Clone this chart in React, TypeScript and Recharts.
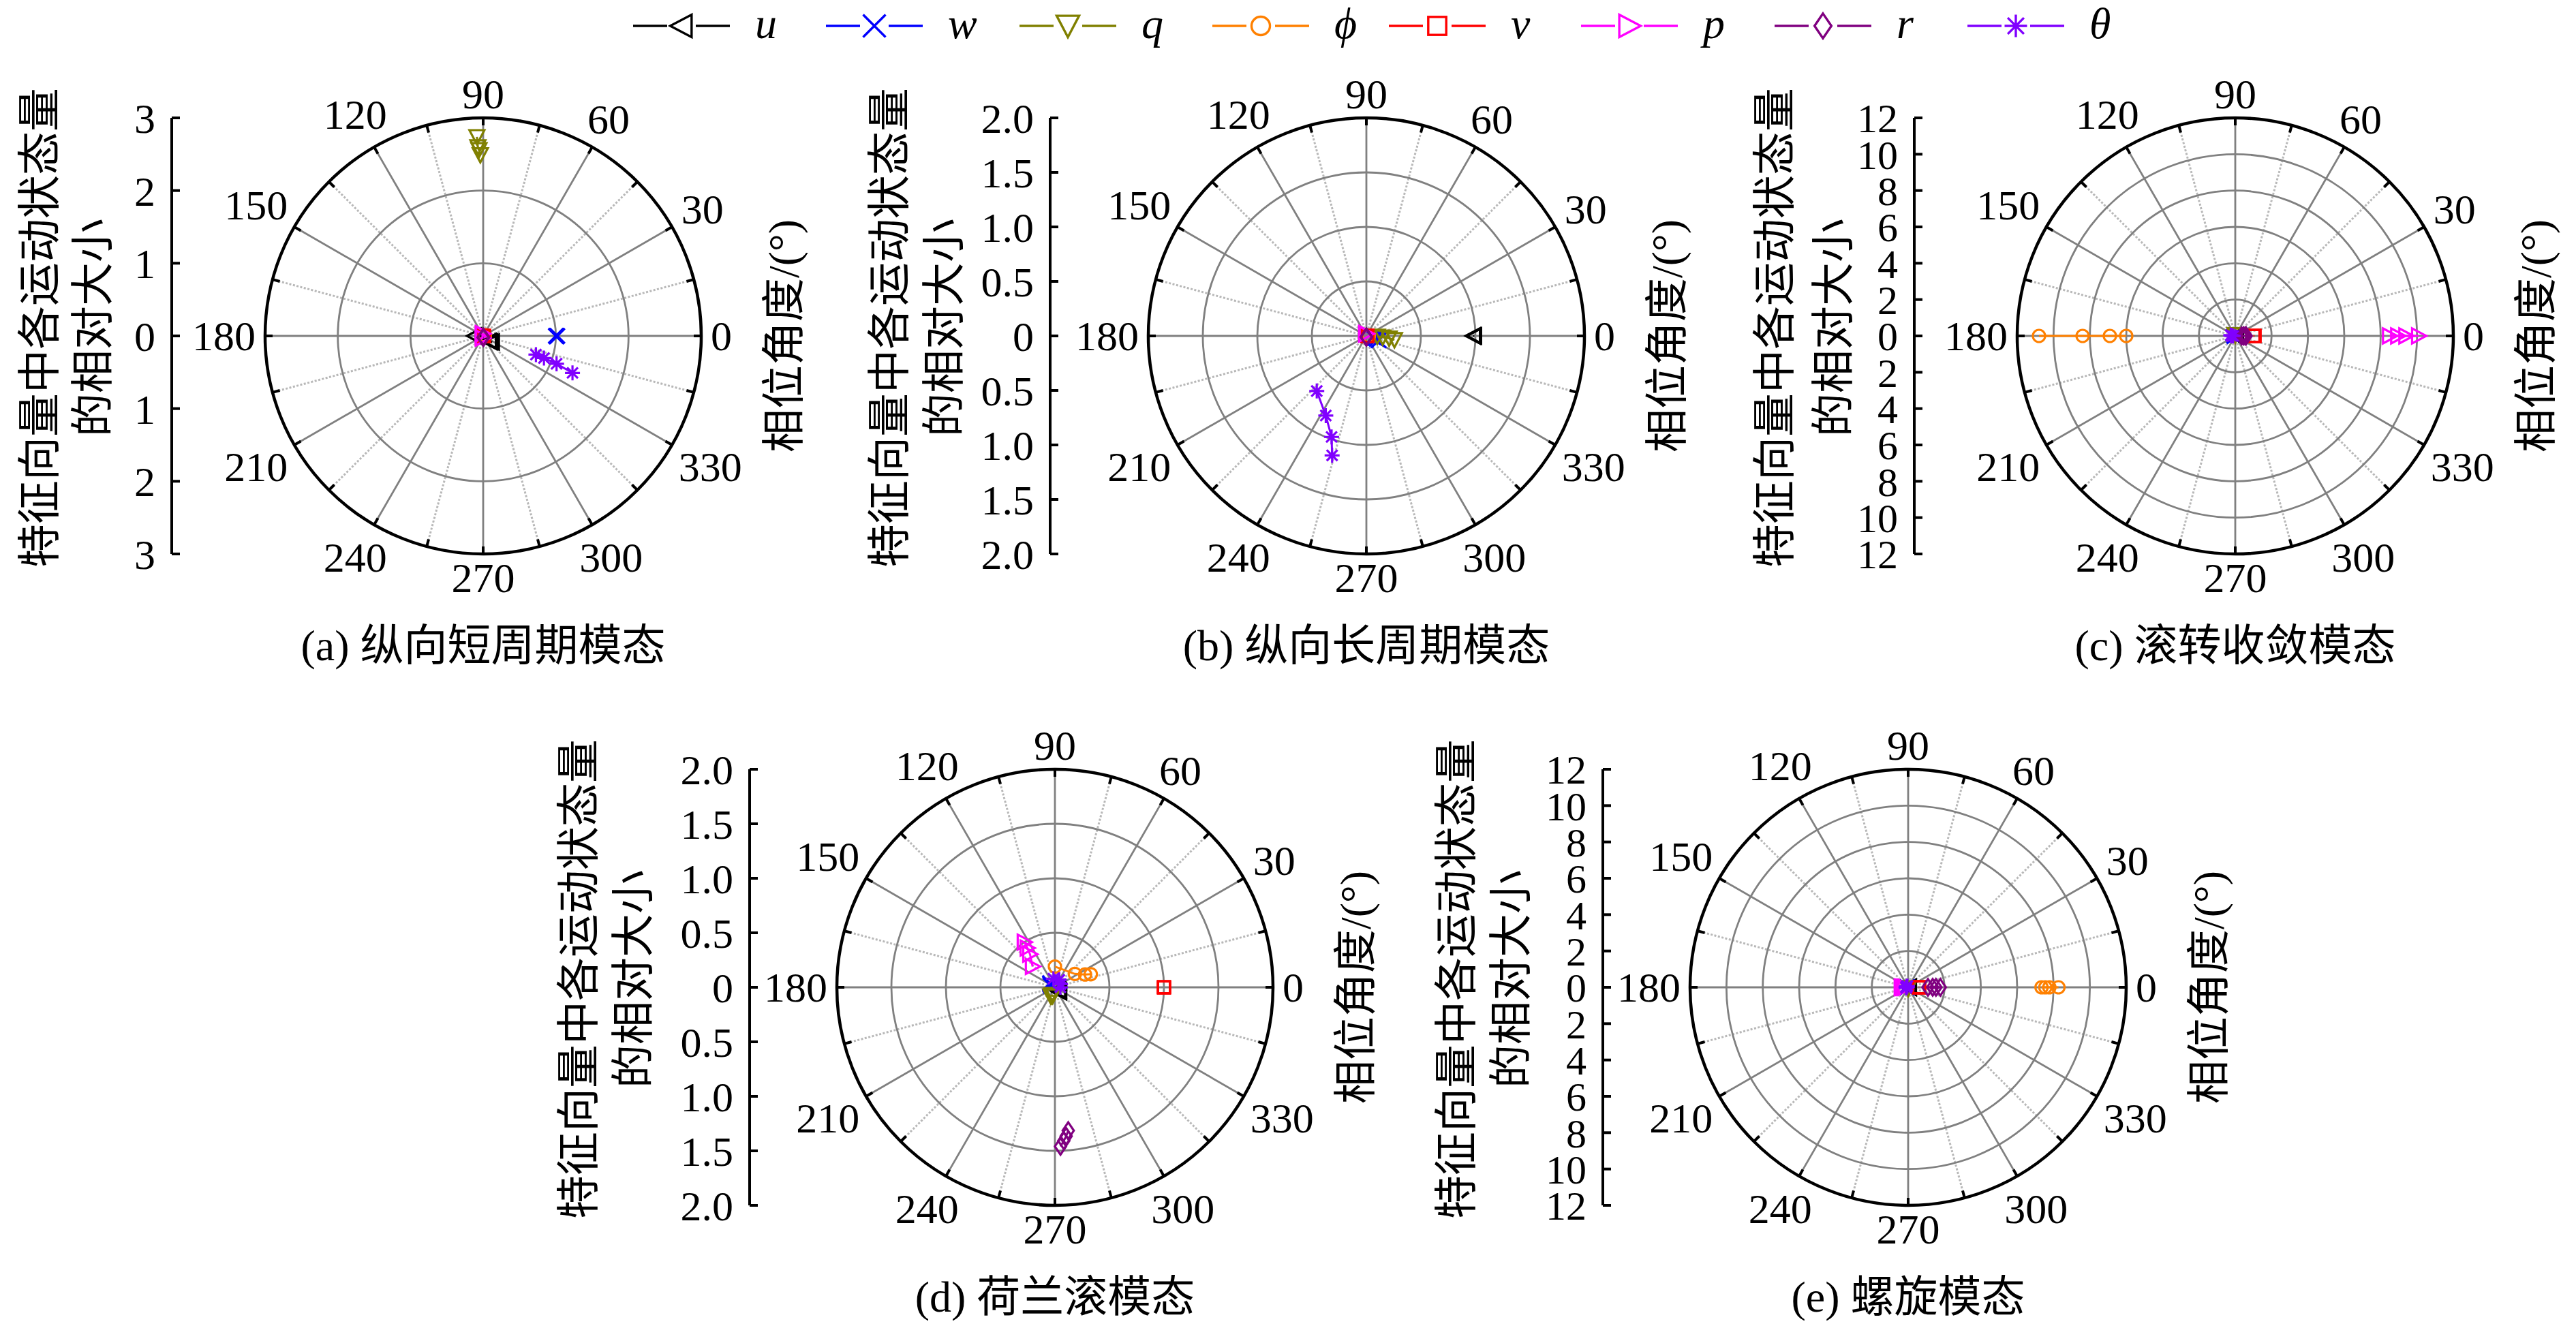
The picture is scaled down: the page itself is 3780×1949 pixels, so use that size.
import React from 'react';
import {
  RadarChart, Radar, PolarGrid, PolarAngleAxis, PolarRadiusAxis, Legend,
  LineChart, XAxis, YAxis,
} from 'recharts';

type Pt = [number, number]; // [relative magnitude, phase angle in degrees]

// ---------- series definitions ----------
const SERIES_KEYS = ['u', 'w', 'q', 'phi', 'v', 'p', 'r', 'theta'];
const SERIES_LABELS = ['u', 'w', 'q', 'ϕ', 'v', 'p', 'r', 'θ'];
const SERIES_COLORS = ['#000000', '#0000FF', '#808000', '#FF8000', '#FF0000', '#FF00FF', '#800080', '#8000FF'];
const SERIES_MARKERS = ['triLeft', 'cross', 'triDown', 'circle', 'square', 'triRight', 'diamond', 'star'];

// ---------- tick labels ----------
const TICKS_3 = [-3, -2, -1, 0, 1, 2, 3];
const TICKS_2 = [-2, -1.5, -1, -0.5, 0, 0.5, 1, 1.5, 2];
const TICKS_12 = [-12, -10, -8, -6, -4, -2, 0, 2, 4, 6, 8, 10, 12];
const SOLID_SPOKES = [0, 30, 60, 90, 120, 150, 180, 210, 240, 270, 300, 330];
const DOTTED_SPOKES = [15, 45, 75, 105, 135, 165, 195, 225, 255, 285, 315, 345];

// ---------- (a) 纵向短周期模态 ----------
const A_u: Pt[] = [[0.12, 180], [0.11, 318], [0.13, 322], [0.15, 326]];
const A_w: Pt[] = [[1.0, 0], [1.01, 0], [1.01, 359.5], [1.02, 0]];
const A_q: Pt[] = [[2.74, 91.8], [2.6, 91.6], [2.56, 91.3], [2.49, 90.9]];
const A_phi: Pt[] = [[0.02, 0], [0.02, 10], [0.02, 20], [0.02, 30]];
const A_v: Pt[] = [[0.01, 0], [0.01, 0], [0.01, 0], [0.01, 0]];
const A_p: Pt[] = [[0.03, 100], [0.03, 110], [0.03, 250], [0.03, 260]];
const A_r: Pt[] = [[0.02, 270], [0.02, 275], [0.02, 280], [0.02, 285]];
const A_theta: Pt[] = [[0.77, 340.5], [0.89, 340], [1.08, 339.2], [1.33, 337.5]];

// ---------- (b) 纵向长周期模态 ----------
const B_u: Pt[] = [[0.98, 0], [0.98, 0], [0.99, 0], [0.99, 0]];
const B_w: Pt[] = [[0.06, 350], [0.08, 346], [0.1, 343], [0.12, 340]];
const B_q: Pt[] = [[0.1, 357], [0.15, 355], [0.21, 354], [0.26, 352]];
const B_phi: Pt[] = [[0.02, 0], [0.02, 0], [0.02, 0], [0.02, 0]];
const B_v: Pt[] = [[0.01, 0], [0.01, 0], [0.01, 0], [0.01, 0]];
const B_p: Pt[] = [[0.02, 90], [0.02, 95], [0.02, 100], [0.02, 105]];
const B_r: Pt[] = [[0.01, 270], [0.01, 270], [0.01, 270], [0.01, 270]];
const B_theta: Pt[] = [[0.68, 228], [0.82, 243], [0.98, 251], [1.14, 254]];

// ---------- (c) 滚转收敛模态 ----------
const C_u: Pt[] = [[0.05, 0], [0.05, 0], [0.05, 0], [0.05, 0]];
const C_w: Pt[] = [[0.05, 180], [0.05, 180], [0.05, 180], [0.05, 180]];
const C_q: Pt[] = [[0.05, 90], [0.05, 90], [0.05, 90], [0.05, 90]];
const C_phi: Pt[] = [[10.8, 180], [8.4, 180], [6.9, 180], [6.0, 180]];
const C_v: Pt[] = [[1.0, 0], [1.03, 0], [1.06, 0], [1.06, 0]];
const C_p: Pt[] = [[8.5, 0], [8.95, 0], [9.4, 0], [10.1, 0]];
const C_r: Pt[] = [[0.35, 0], [0.45, 0], [0.55, 0], [0.6, 0]];
const C_theta: Pt[] = [[0.12, 180], [0.18, 180], [0.22, 175], [0.25, 170]];

// ---------- (d) 荷兰滚模态 ----------
const D_u: Pt[] = [[0.06, 315], [0.05, 318], [0.05, 320], [0.04, 322]];
const D_w: Pt[] = [[0.04, 160], [0.05, 150], [0.05, 145], [0.06, 140]];
const D_q: Pt[] = [[0.09, 245], [0.08, 250], [0.08, 255], [0.07, 255]];
const D_phi: Pt[] = [[0.19, 90], [0.22, 34], [0.3, 23], [0.35, 20]];
const D_v: Pt[] = [[1.0, 0], [1.0, 0], [1.0, 0], [1.0, 0]];
const D_p: Pt[] = [[0.5, 124], [0.44, 125], [0.38, 127], [0.28, 137]];
const D_r: Pt[] = [[1.46, 272], [1.41, 273.3], [1.37, 274.3], [1.32, 275.3]];
const D_theta: Pt[] = [[0.08, 100], [0.08, 60], [0.06, 30], [0.05, 0]];

// ---------- (e) 螺旋模态 ----------
const E_u: Pt[] = [[0.05, 0], [0.05, 0], [0.05, 0], [0.05, 0]];
const E_w: Pt[] = [[0.05, 180], [0.05, 180], [0.05, 180], [0.05, 180]];
const E_q: Pt[] = [[0.05, 270], [0.05, 270], [0.05, 270], [0.05, 270]];
const E_phi: Pt[] = [[7.34, 0], [7.55, 0], [7.77, 0], [8.27, 0]];
const E_v: Pt[] = [[0.59, 0], [0.6, 0], [0.6, 0], [0.61, 0]];
const E_p: Pt[] = [[0.37, 180], [0.3, 180], [0.22, 180], [0.15, 180]];
const E_r: Pt[] = [[1.09, 0], [1.35, 0], [1.53, 0], [1.77, 0]];
const E_theta: Pt[] = [[0.12, 180], [0.1, 150], [0.08, 120], [0.1, 200]];

// ---------- layout ----------
const PAGE_W = 3780;
const PAGE_H = 1949;
const BOX_W = 1400;
const BOX_H = 1000;
const CX_L = 820;
const CY_L = 500;
const R = 320;
const SERIF = "'Liberation Serif', 'Times New Roman', Tinos, 'DejaVu Serif', serif";
const CJK = "'Liberation Serif', 'Times New Roman', 'DejaVu Serif', 'Noto Sans CJK SC', serif";
const TICK_FS = 62;
const CJK_FS = 64;
const LEGEND_X = [0, 283, 567, 850, 1109, 1391, 1675, 1958];

interface Panel {
  title: string; cx: number; cy: number; axisX: number; lab1: number; lab2: number;
  rMax: number; ticks: number[]; decimals: number; radialCount: number; tickFs: number;
  series: Pt[][]; legend?: boolean;
}

const PANELS: Panel[] = [
  { title: '(a) 纵向短周期模态', cx: 709, cy: 493, axisX: 252, lab1: 58, lab2: 136, rMax: 3, ticks: TICKS_3, decimals: 0, radialCount: 4, tickFs: 62,
    series: [A_u, A_w, A_q, A_phi, A_v, A_p, A_r, A_theta], legend: true },
  { title: '(b) 纵向长周期模态', cx: 2005, cy: 493, axisX: 1541, lab1: 1305, lab2: 1385, rMax: 2, ticks: TICKS_2, decimals: 1, radialCount: 5, tickFs: 62,
    series: [B_u, B_w, B_q, B_phi, B_v, B_p, B_r, B_theta] },
  { title: '(c) 滚转收敛模态', cx: 3280, cy: 493, axisX: 2809, lab1: 2604, lab2: 2690, rMax: 12, ticks: TICKS_12, decimals: 0, radialCount: 7, tickFs: 60,
    series: [C_u, C_w, C_q, C_phi, C_v, C_p, C_r, C_theta] },
  { title: '(d) 荷兰滚模态', cx: 1548, cy: 1449, axisX: 1100, lab1: 849, lab2: 929, rMax: 2, ticks: TICKS_2, decimals: 1, radialCount: 5, tickFs: 62,
    series: [D_u, D_w, D_q, D_phi, D_v, D_p, D_r, D_theta] },
  { title: '(e) 螺旋模态', cx: 2800, cy: 1449, axisX: 2352, lab1: 2137, lab2: 2217, rMax: 12, ticks: TICKS_12, decimals: 0, radialCount: 7, tickFs: 60,
    series: [E_u, E_w, E_q, E_phi, E_v, E_p, E_r, E_theta] },
];

// ---------- markers ----------
function Marker({ kind, x, y, s, color, sw }: { kind: string; x: number; y: number; s: number; color: string; sw: number }) {
  const h = s / 2;
  const common = { fill: 'none', stroke: color, strokeWidth: sw };
  switch (kind) {
    case 'triLeft':
      return <polygon points={`${x - h},${y} ${x + h * 0.9},${y - h} ${x + h * 0.9},${y + h}`} {...common} />;
    case 'triRight':
      return <polygon points={`${x + h},${y} ${x - h * 0.9},${y - h} ${x - h * 0.9},${y + h}`} {...common} />;
    case 'triDown':
      return <polygon points={`${x - h},${y - h * 0.9} ${x + h},${y - h * 0.9} ${x},${y + h}`} {...common} />;
    case 'cross':
      return <path d={`M${x - h},${y - h}L${x + h},${y + h}M${x - h},${y + h}L${x + h},${y - h}`} {...common} />;
    case 'circle':
      return <circle cx={x} cy={y} r={h * 0.82} {...common} />;
    case 'square':
      return <rect x={x - h * 0.8} y={y - h * 0.8} width={h * 1.6} height={h * 1.6} {...common} />;
    case 'diamond':
      return <polygon points={`${x},${y - h * 1.1} ${x + h * 0.75},${y} ${x},${y + h * 1.1} ${x - h * 0.75},${y}`} {...common} />;
    default: {
      const k = h * 0.72;
      return (
        <path
          d={`M${x},${y - h}L${x},${y + h}M${x - h},${y}L${x + h},${y}M${x - k},${y - k}L${x + k},${y + k}M${x - k},${y + k}L${x + k},${y - k}`}
          {...common}
        />
      );
    }
  }
}

const makeShape = (idx: number) => (props: any) => {
  const key = SERIES_KEYS[idx];
  const pts = (props.points || []).filter(
    (p: any) => p && p.payload && p.payload[key] != null && Number.isFinite(p.x) && Number.isFinite(p.y),
  );
  if (!pts.length) return <g />;
  const color = SERIES_COLORS[idx];
  const d = pts.map((p: any, i: number) => `${i ? 'L' : 'M'}${p.x},${p.y}`).join(' ');
  return (
    <g>
      {pts.length > 1 && <path d={d} fill="none" stroke={color} strokeWidth={3} />}
      {pts.map((p: any, i: number) => (
        <Marker key={i} kind={SERIES_MARKERS[idx]} x={p.x} y={p.y} s={22} color={color} sw={3.2} />
      ))}
    </g>
  );
};

// ---------- angle axis tick ----------
const AngleTick = (props: any) => {
  const { x, y, payload } = props;
  const v = Math.round(Number(payload?.value));
  if (!Number.isFinite(v) || v >= 360 || v % 15 !== 0) return <g />;
  const deg = typeof payload.coordinate === 'number' ? payload.coordinate : v;
  const a = (deg * Math.PI) / 180;
  const ux = Math.cos(a);
  const uy = -Math.sin(a);
  const px = x - ux;
  const py = y - uy;
  const tick = <line x1={px} y1={py} x2={px - ux * 11} y2={py - uy * 11} stroke="#000" strokeWidth={4} />;
  if (v % 30 !== 0) return <g>{tick}</g>;
  const label = String(v);
  const halfW = (label.length * 0.5 * TICK_FS) / 2;
  const halfH = (0.68 * TICK_FS) / 2;
  const dist = 14 + Math.abs(ux) * halfW + Math.abs(uy) * halfH;
  const lx = px + ux * dist;
  const ly = py + uy * dist;
  return (
    <g>
      {tick}
      <text x={lx} y={ly + 0.34 * TICK_FS} textAnchor="middle" fontSize={TICK_FS} fontFamily={SERIF} fill="#000">
        {label}
      </text>
    </g>
  );
};

// ---------- legend ----------
const LegendContent = (props: any) => {
  const payload: any[] = props.payload && props.payload.length ? props.payload : [];
  const keys = SERIES_KEYS.filter((k) => !payload.length || payload.some((e: any) => String(e.dataKey) === k));
  return (
    <svg width={2250} height={80} style={{ display: 'block' }}>
      {keys.map((k, j) => {
        const idx = SERIES_KEYS.indexOf(k);
        const x0 = LEGEND_X[j] ?? j * 283;
        const color = SERIES_COLORS[idx];
        const yl = 38;
        return (
          <g key={k}>
            <line x1={x0} y1={yl} x2={x0 + 50} y2={yl} stroke={color} strokeWidth={3.4} />
            <line x1={x0 + 92} y1={yl} x2={x0 + 142} y2={yl} stroke={color} strokeWidth={3.4} />
            <Marker kind={SERIES_MARKERS[idx]} x={x0 + 71} y={yl} s={33} color={color} sw={3.4} />
            <text x={x0 + 179} y={56} fontSize={64} fontStyle="italic" fontFamily={SERIF} fill="#000">
              {SERIES_LABELS[idx]}
            </text>
          </g>
        );
      })}
    </svg>
  );
};

// ---------- one panel ----------
function PolarPanel({ panel }: { panel: Panel }) {
  const left = panel.cx - CX_L;
  const top = panel.cy - CY_L;
  const rows = panel.series.flatMap((pts, i) => pts.map(([m, a]) => ({ angle: a, [SERIES_KEYS[i]]: m })));
  const frameRows = panel.ticks.map((t) => ({ t }));
  const fmt = (v: number) => (v === 0 ? '0' : Math.abs(v).toFixed(panel.decimals));
  const l1 = panel.lab1 - left;
  const l2 = panel.lab2 - left;
  const ly = CY_L - 12;

  const leftLabel = () => (
    <g>
      <text x={l1} y={ly} transform={`rotate(-90 ${l1} ${ly})`} textAnchor="middle" dominantBaseline="central" fontSize={CJK_FS} fontFamily={CJK} fill="#000">
        特征向量中各运动状态量
      </text>
      <text x={l2} y={ly} transform={`rotate(-90 ${l2} ${ly})`} textAnchor="middle" dominantBaseline="central" fontSize={CJK_FS} fontFamily={CJK} fill="#000">
        的相对大小
      </text>
    </g>
  );
  const titleLabel = () => (
    <text x={CX_L} y={CY_L + 452 + 24} textAnchor="middle" fontSize={CJK_FS} fontFamily={CJK} fill="#000">
      {panel.title}
    </text>
  );

  return (
    <div style={{ position: 'absolute', left, top, width: BOX_W, height: BOX_H }}>
      <div style={{ position: 'absolute', left: 0, top: 0 }}>
        <LineChart width={BOX_W} height={BOX_H} data={frameRows} margin={{ top: CY_L - R, right: 90, bottom: 0, left: 0 }}>
          <XAxis dataKey="t" height={BOX_H - CY_L - R} axisLine={false} tickLine={false} tick={false} label={{ content: titleLabel }} />
          <YAxis
            yAxisId="l"
            type="number"
            domain={[-panel.rMax, panel.rMax]}
            allowDataOverflow
            ticks={panel.ticks}
            interval={0}
            width={panel.axisX - left}
            tickFormatter={fmt}
            tickSize={-12}
            tickMargin={36}
            axisLine={{ stroke: '#000', strokeWidth: 4 }}
            tickLine={{ stroke: '#000', strokeWidth: 4 }}
            tick={{ fontSize: panel.tickFs, fill: '#000', fontFamily: SERIF }}
            label={{ content: leftLabel }}
          />
          <YAxis
            yAxisId="r"
            orientation="right"
            type="number"
            domain={[-panel.rMax, panel.rMax]}
            allowDataOverflow
            width={100}
            axisLine={false}
            tickLine={false}
            tick={false}
            label={{ value: '相位角度/(°)', angle: -90, position: 'center', fontSize: CJK_FS, fill: '#000', fontFamily: CJK }}
          />
        </LineChart>
      </div>
      <div style={{ position: 'absolute', left: 0, top: 0 }}>
        <RadarChart
          width={BOX_W}
          height={BOX_H}
          data={rows}
          cx={CX_L}
          cy={CY_L}
          innerRadius={0}
          outerRadius={R}
          startAngle={0}
          endAngle={360}
          margin={{ top: 0, right: 0, bottom: 0, left: 0 }}
        >
          <PolarGrid gridType="circle" polarAngles={DOTTED_SPOKES} polarRadius={[0]} stroke="#b8b8b8" strokeWidth={3} strokeDasharray="3 2.5" />
          <PolarGrid gridType="circle" polarAngles={SOLID_SPOKES} stroke="#808080" strokeWidth={2.8} />
          <PolarAngleAxis
            dataKey="angle"
            type="number"
            domain={[0, 360]}
            tickCount={25}
            allowDecimals={false}
            axisLineType="circle"
            axisLine={{ stroke: '#000', strokeWidth: 4.5 }}
            tickLine={false}
            tickSize={1}
            tick={AngleTick}
          />
          <PolarRadiusAxis
            type="number"
            domain={[0, panel.rMax]}
            allowDataOverflow
            allowDecimals
            tickCount={panel.radialCount}
            axisLine={false}
            tick={false}
          />
          {SERIES_KEYS.map((k, i) => (
            <Radar
              key={k}
              dataKey={k}
              name={SERIES_LABELS[i]}
              stroke={SERIES_COLORS[i]}
              fill="none"
              dot={false}
              activeDot={false}
              legendType="line"
              isAnimationActive={false}
              shape={makeShape(i)}
            />
          ))}
          {panel.legend && (
            <Legend
              layout="horizontal"
              verticalAlign="middle"
              align="center"
              content={LegendContent}
              wrapperStyle={{ left: 929 - left, top: -top, width: 2250, height: 80, margin: 0, padding: 0, lineHeight: 0 }}
            />
          )}
        </RadarChart>
      </div>
    </div>
  );
}

export default function App() {
  return (
    <div style={{ position: 'absolute', left: 0, top: 0, width: PAGE_W, height: PAGE_H, overflow: 'hidden', background: '#fff' }}>
      {PANELS.map((p) => (
        <PolarPanel key={p.title} panel={p} />
      ))}
    </div>
  );
}
